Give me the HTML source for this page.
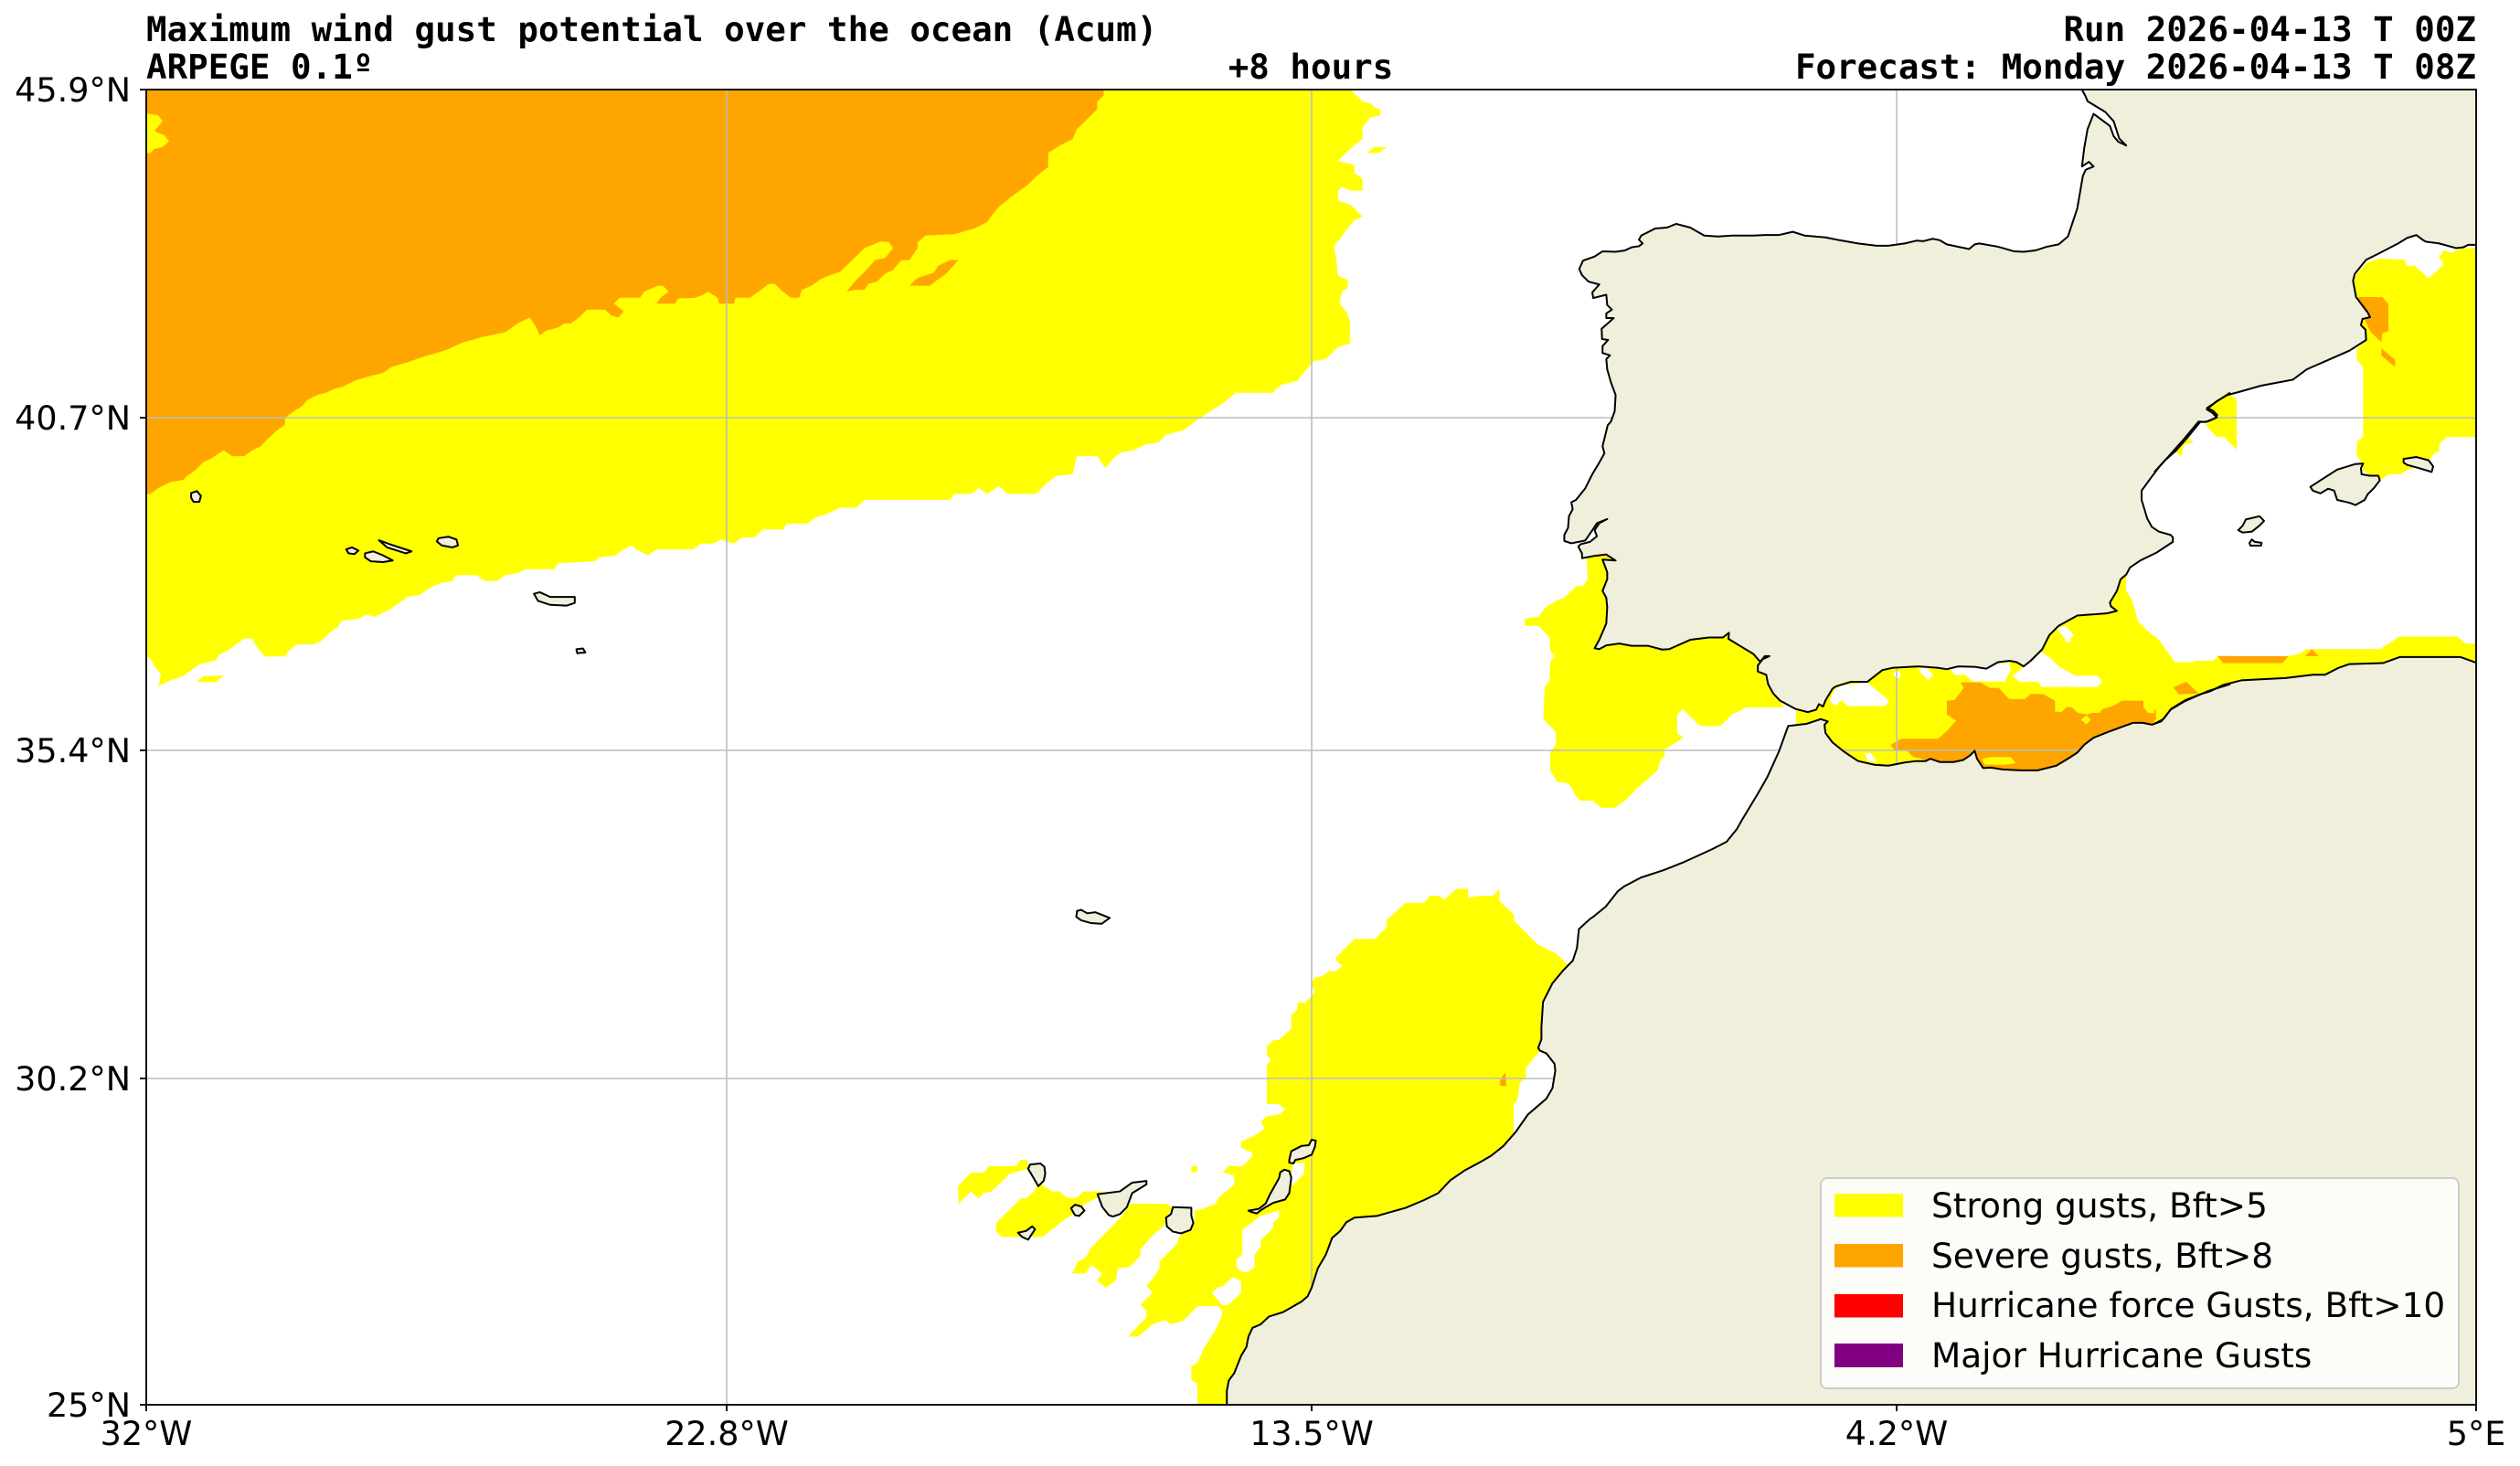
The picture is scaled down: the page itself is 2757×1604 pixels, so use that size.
<!DOCTYPE html>
<html><head><meta charset="utf-8"><style>html,body{margin:0;padding:0;background:#fff;overflow:hidden}svg{display:block}</style></head>
<body>
<svg width="2757" height="1604" viewBox="0 0 2757 1604" xmlns="http://www.w3.org/2000/svg">
<rect x="0" y="0" width="2757" height="1604" fill="#ffffff"/>
<defs><clipPath id="ax"><rect x="160" y="98" width="2549" height="1439"/></clipPath></defs>
<g clip-path="url(#ax)">
<!-- ===== FILLS ===== -->
<g transform="translate(160,98) scale(0.893,0.4337)">
<polygon fill="#ffff00" points="0,0 1475,0 1478,5 1490,30 1500,35 1505,45 1512,50 1512,65 1500,70 1490,95 1490,125 1480,140 1465,170 1460,180 1480,190 1480,210 1490,225 1490,255 1475,255 1465,245 1460,255 1460,280 1475,290 1490,320 1480,330 1470,355 1465,370 1455,395 1458,430 1460,470 1472,480 1472,500 1465,510 1462,540 1470,560 1475,585 1475,640 1460,650 1445,680 1430,685 1420,710 1410,735 1390,745 1380,765 1335,765 1320,790 1305,810 1290,830 1280,845 1270,860 1250,870 1240,890 1225,895 1210,910 1195,915 1185,930 1175,955 1165,925 1140,925 1135,970 1115,975 1105,990 1090,1020 1055,1020 1045,1000 1030,1020 1020,1005 1010,1020 990,1020 985,1035 880,1035 870,1055 850,1055 835,1070 820,1080 810,1095 785,1095 780,1110 755,1110 745,1130 730,1130 720,1145 705,1135 695,1145 680,1145 670,1160 625,1160 615,1175 600,1160 595,1150 585,1160 575,1175 555,1180 550,1190 505,1195 500,1210 465,1210 455,1220 440,1225 430,1240 415,1240 405,1225 380,1225 375,1240 360,1245 345,1260 335,1275 320,1280 310,1295 300,1310 290,1320 280,1330 270,1325 260,1335 240,1340 235,1355 225,1370 215,1390 205,1400 185,1400 175,1415 170,1430 145,1430 135,1405 130,1385 120,1385 110,1400 100,1415 90,1425 85,1440 75,1445 65,1450 55,1465 45,1480 30,1490 15,1505 18,1475 10,1455 5,1435 0,1430"/>
<polygon fill="#ffff00" points="62,1495 70,1480 95,1478 85,1495"/>
<polygon fill="#ffff00" points="1495,160 1505,145 1520,145 1510,160"/>
<polygon fill="#ffa500" points="0,0 1173,0 1173,15 1165,30 1165,50 1150,80 1140,100 1135,125 1120,140 1105,160 1105,195 1090,220 1080,240 1060,270 1045,295 1035,320 1030,335 1015,350 990,365 955,368 945,385 945,400 935,430 925,430 915,455 905,465 895,485 885,490 880,505 868,505 858,510 870,480 880,460 893,430 905,425 915,400 910,385 900,383 880,400 870,420 860,440 850,460 835,470 825,480 815,495 803,505 800,525 790,525 780,510 770,490 763,490 750,510 740,525 722,525 720,540 702,540 700,525 688,510 680,520 672,525 652,527 648,540 625,540 630,525 640,510 633,495 627,495 610,510 605,525 580,525 573,540 585,560 578,575 570,570 562,555 540,555 530,575 520,590 512,590 505,600 490,608 482,620 478,600 470,575 455,590 445,605 440,612 410,625 385,640 370,655 350,668 345,670 320,688 300,700 290,715 270,725 255,735 240,750 230,755 220,765 210,770 198,782 190,800 182,810 170,828 170,845 160,860 155,870 147,885 140,900 130,910 120,925 105,925 95,910 80,930 70,940 60,960 50,975 45,985 30,990 15,1005 5,1020 0,1020"/>
<polygon fill="#ffa500" points="935,495 945,475 965,462 970,445 985,430 995,430 980,465 968,482 960,495"/>
<polygon fill="#ffff00" points="0,60 15,65 20,80 10,105 22,115 28,130 20,145 10,150 5,160 0,160"/>
</g>

<g transform="translate(1640,98) scale(0.5102)">
<polygon fill="#ffff00" points="188,1000 240,995 260,1100 240,1190 350,1190 480,1165 560,1220 572,1262 585,1295 605,1315 612,1325 530,1325 520,1330 500,1340 475,1365 432,1365 410,1345 395,1328 382,1340 382,1380 395,1390 380,1400 355,1415 355,1430 345,1440 340,1460 300,1495 270,1525 250,1540 220,1540 200,1525 175,1525 165,1515 150,1488 125,1485 110,1460 110,1420 122,1405 122,1378 95,1350 98,1280 108,1270 110,1225 120,1215 110,1205 108,1175 85,1150 55,1150 55,1135 85,1130 100,1110 125,1095 140,1090 165,1065 180,1065 190,1050"/>
<polygon fill="#ffff00" points="640,1335 660,1333 690,1320 700,1300 720,1270 790,1260 822,1235 900,1228 1000,1228 1100,1215 1140,1210 1170,1170 1200,1140 1240,1118 1310,1110 1318,1075 1330,1045 1345,1040 1345,1075 1355,1090 1362,1110 1370,1140 1390,1160 1420,1185 1420,1200 1445,1225 1530,1225 1545,1215 1568,1215 1568,1320 1520,1320 1440,1345 1420,1375 1300,1395 1240,1440 1150,1475 1030,1475 1010,1445 960,1455 830,1465 760,1450 700,1395 690,1360 640,1360"/>
<polygon fill="#ffffff" points="1195,1155 1215,1150 1232,1170 1220,1185"/>
<polygon fill="#ffa500" points="1445,1285 1470,1270 1495,1292 1458,1298"/>
<polygon fill="#ffa500" points="1540,1215 1568,1215 1568,1232 1548,1232"/>
</g>

<!-- Alboran detail (actual = 1900 + d/3, 700 + d/3) -->
<g transform="translate(1900,700) scale(0.33333)">
<polygon fill="#ffff00" points="195,0 1500,0 1500,600 195,600"/>
<polygon fill="#ffffff" points="320,165 345,150 430,140 440,150 500,200 488,218 365,218 345,198 325,218 305,200"/>
<polygon fill="#ffffff" points="512,112 528,100 542,115 528,130"/>
<polygon fill="#ffffff" points="595,95 625,92 645,115 630,132 610,115"/>
<polygon fill="#ffffff" points="700,95 720,88 800,92 820,97 855,78 895,75 900,100 880,137 775,137 750,115 715,115"/>
<polygon fill="#ffffff" points="905,118 935,95 980,60 1000,40 1030,60 1060,90 1090,105 1110,118 1185,118 1200,140 1185,155 1000,155 990,138 930,138"/>
<polygon fill="#ffffff" points="1385,0 1400,20 1440,75 1500,75 1500,0"/>
<polygon fill="#ffffff" points="420,372 440,372 460,400 432,400"/>
<polygon fill="#ffffff" points="1075,0 1100,0 1090,10"/>
<polygon fill="#ffa500" points="735,140 800,140 830,158 860,158 895,195 945,195 965,178 1005,178 1045,200 1045,235 1065,238 1085,220 1100,222 1120,240 1150,245 1165,240 1190,240 1200,228 1240,215 1265,200 1335,200 1335,220 1350,240 1372,242 1372,275 1300,275 1230,305 1190,325 1145,355 1120,380 1050,420 1000,435 935,432 850,428 800,428 790,395 780,368 760,390 730,405 690,410 650,405 625,397 600,388 580,385 560,365 520,365 505,345 540,325 660,325 690,300 720,265 690,245 690,200 715,198 730,178 745,158"/>
<polygon fill="#ffff00" points="805,392 830,385 900,385 915,405 880,410 815,410"/>
<polygon fill="#ffff00" points="1130,262 1148,248 1162,262 1148,278"/>
<polygon fill="#ffa500" points="1435,158 1470,140 1500,150 1500,180 1450,180"/>
</g>

<!-- Ebro delta yellow -->
<polygon fill="#ffff00" points="2415,448 2437,428 2447,438 2447,492 2433,478 2425,478 2413,465 2420,460 2427,456"/>
<polygon fill="#ffff00" points="2380,494 2393,478 2400,484 2390,486 2386,499"/>

<g transform="translate(2357,98) scale(0.33333,0.5102)">
<polygon fill="#ffff00" points="700,370 740,362 820,365 830,378 855,378 900,405 950,375 935,360 950,345 975,350 1010,340 1060,340 1060,745 1010,745 960,745 935,760 935,775 920,780 900,795 860,810 830,815 810,825 770,825 740,838 705,828 685,815 680,800 665,785 665,755 685,745 685,595 665,580 665,555 695,540 690,510 675,500 680,490 700,480 665,450 655,410 665,395"/>
<polygon fill="#ffa500" points="668,445 748,445 768,460 768,518 748,522 745,542 710,520 695,500 680,470"/>
<polygon fill="#ffa500" points="745,555 790,580 790,595 745,570"/>
<polygon fill="#ffff00" points="0,1170 20,1185 25,1200 65,1228 190,1228 210,1215 440,1215 475,1210 500,1200 740,1200 770,1188 805,1173 995,1173 1020,1188 1060,1188 1060,1400 0,1400"/>
<polygon fill="#ffa500" points="208,1215 440,1215 420,1230 225,1230"/>
<polygon fill="#ffa500" points="495,1215 517,1200 540,1215"/>
<polygon fill="#ffa500" points="62,1282 105,1270 145,1295 80,1297"/>
<polygon fill="#ffa500" points="0,1330 5,1330 5,1352 0,1352"/>
</g>

<g transform="translate(1040,940) scale(0.4464,0.3827)">
<polygon fill="#ffff00" points="1240,85 1268,85 1268,110 1300,105 1330,105 1345,85 1345,120 1380,158 1380,175 1440,245 1485,270 1510,300 1545,300 1545,540 1445,548 1410,595 1410,625 1395,640 1390,685 1380,700 1380,785 1355,820 1420,900 1420,1575 605,1575 605,1500 590,1490 590,1450 605,1440 620,1400 650,1345 665,1305 665,1290 655,1278 605,1278 570,1320 540,1330 525,1318 495,1330 460,1365 435,1365 480,1310 480,1290 465,1275 495,1240 480,1220 498,1195 512,1170 512,1150 555,1100 560,1080 598,1040 598,1003 610,1003 650,985 655,970 695,930 695,905 668,895 680,878 715,878 740,850 740,840 712,825 712,808 745,790 770,770 760,750 775,735 805,730 820,715 805,700 775,700 775,590 785,575 775,560 775,535 792,517 805,517 835,485 835,445 850,430 850,410 870,410 893,380 885,360 890,340 910,335 928,320 945,320 960,305 945,290 945,280 990,228 1040,228 1068,195 1068,175 1115,125 1160,125 1175,105 1195,105 1210,115"/>
<polygon fill="#ffff00" points="18,935 50,897 80,897 95,878 160,878 172,860 188,860 190,885 145,900 100,950 80,955 68,970 50,950 20,985"/>
<polygon fill="#ffff00" points="112,1040 172,970 185,970 205,950 215,925 235,940 250,950 268,950 285,968 310,968 325,950 375,950 360,968 330,985 300,1015 280,1030 225,1080 125,1080 112,1065"/>
<polygon fill="#ffff00" points="345,1110 420,1020 440,985 530,985 545,998 530,1020 525,1045 512,1060 500,1070 465,1115 465,1135 440,1165 410,1170 405,1205 380,1225 358,1205 372,1185 345,1160 330,1185 298,1185 312,1150 330,1140"/>
<polygon fill="#ffff00" points="590,878 605,878 605,893 590,898"/>
<polygon fill="#ffffff" points="715,1060 760,1020 805,1005 805,1025 790,1040 790,1055 760,1090 760,1110 745,1130 745,1165 730,1180 715,1180 700,1165 700,1145 715,1130"/>
<polygon fill="#ffffff" points="640,1240 655,1225 670,1220 690,1195 712,1205 712,1240 680,1275 665,1275 655,1260"/>
<polygon fill="#ffffff" points="840,870 868,868 866,900 836,935 835,900"/>
<polygon fill="#ffa500" points="1347,628 1360,610 1362,648 1347,648"/>
</g>

<!-- ===== GRIDLINES ===== -->
<g stroke="#bdbdbd" stroke-width="1.6">
<line x1="795" y1="98" x2="795" y2="1537"/>
<line x1="1435" y1="98" x2="1435" y2="1537"/>
<line x1="2075" y1="98" x2="2075" y2="1537"/>
<line x1="160" y1="457" x2="2709" y2="457"/>
<line x1="160" y1="821" x2="2709" y2="821"/>
<line x1="160" y1="1180" x2="2709" y2="1180"/>
</g>

<!-- ===== LAND ===== -->
<g fill="#efefdb" stroke="none">
<g transform="translate(1640,98) scale(0.5102)">
<polygon points="1250,0 1258,15 1262,25 1300,48 1318,68 1330,105 1345,120 1328,112 1318,100 1310,78 1275,52 1262,85 1255,125 1250,165 1265,155 1275,165 1258,172 1252,185 1240,255 1220,315 1200,332 1175,337 1150,345 1125,348 1105,347 1070,337 1030,330 1020,332 1008,342 960,332 945,323 930,320 910,325 895,324 870,330 835,335 810,335 770,330 730,323 700,317 655,313 630,305 600,312 570,312 545,313 500,313 470,315 440,313 410,296 395,292 380,288 360,296 335,298 305,313 300,322 308,330 300,336 285,338 270,345 250,348 222,347 205,358 180,367 172,385 178,398 192,412 215,418 200,435 202,447 230,440 232,462 242,472 230,480 230,490 246,490 220,513 221,535 234,537 222,550 222,565 238,570 230,578 232,600 240,628 250,655 248,690 240,712 233,720 222,765 226,780 215,800 200,825 185,855 165,880 155,885 158,900 150,915 148,940 140,955 140,968 155,973 185,967 200,945 210,930 232,921 215,930 205,945 210,958 195,970 175,975 170,980 178,995 178,1005 205,1000 230,997 250,1010 222,1008 232,1035 232,1050 222,1075 230,1090 232,1110 230,1145 215,1180 205,1198 215,1200 230,1192 258,1188 285,1193 320,1193 350,1201 365,1200 410,1180 450,1175 480,1175 493,1165 492,1178 520,1195 545,1210 560,1227 570,1215 580,1215 565,1222 555,1235 555,1248 573,1255 577,1275 588,1295 602,1310 635,1328 662,1335 680,1330 686,1318 695,1323 700,1310 715,1285 722,1280 755,1270 790,1270 822,1245 845,1240 900,1237 940,1240 960,1243 985,1237 1020,1238 1045,1242 1070,1228 1095,1225 1110,1228 1125,1237 1140,1225 1165,1200 1180,1170 1200,1150 1240,1128 1280,1125 1305,1123 1325,1118 1312,1108 1310,1100 1325,1075 1333,1050 1345,1040 1353,1025 1375,1010 1410,993 1445,970 1445,960 1440,955 1415,948 1400,938 1390,920 1378,880 1378,860 1400,830 1415,810 1440,782 1470,748 1500,712 1515,713 1535,705 1540,698 1530,688 1518,683 1545,665 1568,650 1568,-10 1250,-10"/>
<polygon points="196,1778 202,1774 229,1752 255,1719 268,1709 304,1690 353,1674 398,1656 457,1629 488,1613 510,1586 520,1568 555,1510 575,1475 600,1420 620,1365 660,1360 690,1350 705,1355 698,1362 700,1380 715,1400 740,1420 770,1440 805,1448 835,1450 870,1443 895,1440 915,1440 925,1435 945,1442 975,1442 995,1438 1010,1428 1020,1418 1025,1435 1038,1455 1055,1454 1080,1458 1120,1460 1155,1460 1195,1450 1220,1435 1240,1422 1255,1405 1275,1390 1305,1378 1335,1367 1360,1358 1380,1358 1400,1362 1420,1355 1440,1330 1470,1312 1520,1290 1568,1275 1568,2830 196,2830"/>
</g>
<g transform="translate(2357,98) scale(0.33333,0.5102)">
<polygon points="0,820 35,795 70,775 110,745 150,713 175,712 205,703 190,693 172,686 205,668 240,655 280,648 350,635 455,622 500,600 570,580 640,560 695,537 693,515 678,505 683,492 708,488 700,478 685,465 662,445 652,410 658,395 695,365 735,352 800,330 830,318 860,312 880,322 890,326 935,330 990,340 1015,338 1030,333 1070,333 1070,-10 0,-10"/>
<polygon points="0,1360 30,1350 55,1328 100,1310 150,1297 185,1290 225,1277 285,1267 430,1262 520,1255 560,1255 605,1240 640,1232 750,1230 805,1217 1005,1217 1070,1230 1070,2900 0,2900"/>
</g>
<g transform="translate(1040,940) scale(0.4464,0.3827)">
<polygon points="1568,170 1540,200 1535,255 1525,290 1500,320 1475,355 1452,408 1448,480 1448,515 1440,540 1445,548 1460,555 1480,585 1482,605 1475,655 1460,685 1440,705 1415,730 1385,780 1355,820 1325,848 1300,865 1260,890 1225,918 1195,955 1160,975 1115,997 1045,1020 990,1025 970,1038 955,1063 935,1083 920,1130 900,1170 885,1225 875,1250 860,1265 815,1295 780,1308 760,1330 740,1340 730,1365 725,1395 712,1420 695,1470 682,1490 677,1520 677,1580 1610,1580 1610,170"/>
</g>
</g>

<!-- ===== COASTLINES ===== -->
<g fill="none" stroke="#000" stroke-width="2" stroke-linejoin="round">
<g transform="translate(1640,98) scale(0.5102)">
<polyline vector-effect="non-scaling-stroke" points="1250,0 1258,15 1262,25 1300,48 1318,68 1330,105 1345,120 1328,112 1318,100 1310,78 1275,52 1262,85 1255,125 1250,165 1265,155 1275,165 1258,172 1252,185 1240,255 1220,315 1200,332 1175,337 1150,345 1125,348 1105,347 1070,337 1030,330 1020,332 1008,342 960,332 945,323 930,320 910,325 895,324 870,330 835,335 810,335 770,330 730,323 700,317 655,313 630,305 600,312 570,312 545,313 500,313 470,315 440,313 410,296 395,292 380,288 360,296 335,298 305,313 300,322 308,330 300,336 285,338 270,345 250,348 222,347 205,358 180,367 172,385 178,398 192,412 215,418 200,435 202,447 230,440 232,462 242,472 230,480 230,490 246,490 220,513 221,535 234,537 222,550 222,565 238,570 230,578 232,600 240,628 250,655 248,690 240,712 233,720 222,765 226,780 215,800 200,825 185,855 165,880 155,885 158,900 150,915 148,940 140,955 140,968 155,973 185,967 200,945 210,930 232,921 215,930 205,945 210,958 195,970 175,975 170,980 178,995 178,1005 205,1000 230,997 250,1010 222,1008 232,1035 232,1050 222,1075 230,1090 232,1110 230,1145 215,1180 205,1198 215,1200 230,1192 258,1188 285,1193 320,1193 350,1201 365,1200 410,1180 450,1175 480,1175 493,1165 492,1178 520,1195 545,1210 560,1227 570,1215 580,1215 565,1222 555,1235 555,1248 573,1255 577,1275 588,1295 602,1310 635,1328 662,1335 680,1330 686,1318 695,1323 700,1310 715,1285 722,1280 755,1270 790,1270 822,1245 845,1240 900,1237 940,1240 960,1243 985,1237 1020,1238 1045,1242 1070,1228 1095,1225 1110,1228 1125,1237 1140,1225 1165,1200 1180,1170 1200,1150 1240,1128 1280,1125 1305,1123 1325,1118 1312,1108 1310,1100 1325,1075 1333,1050 1345,1040 1353,1025 1375,1010 1410,993 1445,970 1445,960 1440,955 1415,948 1400,938 1390,920 1378,880 1378,860 1400,830 1415,810 1440,782 1470,748 1500,712 1515,713 1535,705 1540,698 1530,688 1518,683 1545,665 1568,650"/>
<polyline vector-effect="non-scaling-stroke" points="196,1778 202,1774 229,1752 255,1719 268,1709 304,1690 353,1674 398,1656 457,1629 488,1613 510,1586 520,1568 555,1510 575,1475 600,1420 620,1365 660,1360 690,1350 705,1355 698,1362 700,1380 715,1400 740,1420 770,1440 805,1448 835,1450 870,1443 895,1440 915,1440 925,1435 945,1442 975,1442 995,1438 1010,1428 1020,1418 1025,1435 1038,1455 1055,1454 1080,1458 1120,1460 1155,1460 1195,1450 1220,1435 1240,1422 1255,1405 1275,1390 1305,1378 1335,1367 1360,1358 1380,1358 1400,1362 1420,1355 1440,1330 1470,1312 1520,1290 1568,1275"/>
</g>
<g transform="translate(2357,98) scale(0.33333,0.5102)">
<polyline vector-effect="non-scaling-stroke" points="0,820 35,795 70,775 110,745 150,713 175,712 205,703 190,693 172,686 205,668 240,655 280,648 350,635 455,622 500,600 570,580 640,560 695,537 693,515 678,505 683,492 708,488 700,478 685,465 662,445 652,410 658,395 695,365 735,352 800,330 830,318 860,312 880,322 890,326 935,330 990,340 1015,338 1030,333 1060,333"/>
<polyline vector-effect="non-scaling-stroke" points="0,1360 30,1350 55,1328 100,1310 150,1297 185,1290 225,1277 285,1267 430,1262 520,1255 560,1255 605,1240 640,1232 750,1230 805,1217 1005,1217 1060,1230"/>
</g>
<g transform="translate(1040,940) scale(0.4464,0.3827)">
<polyline vector-effect="non-scaling-stroke" points="1568,170 1540,200 1535,255 1525,290 1500,320 1475,355 1452,408 1448,480 1448,515 1440,540 1445,548 1460,555 1480,585 1482,605 1475,655 1460,685 1440,705 1415,730 1385,780 1355,820 1325,848 1300,865 1260,890 1225,918 1195,955 1160,975 1115,997 1045,1020 990,1025 970,1038 955,1063 935,1083 920,1130 900,1170 885,1225 875,1250 860,1265 815,1295 780,1308 760,1330 740,1340 730,1365 725,1395 712,1420 695,1470 682,1490 677,1520 677,1580"/>
</g>
</g>

<!-- ===== ISLANDS ===== -->
<g fill="#efefdb" stroke="#000" stroke-width="2" stroke-linejoin="round">
<g transform="translate(160,98) scale(0.893,0.4337)">
<polygon vector-effect="non-scaling-stroke" points="55,1018 62,1013 67,1025 65,1040 58,1040 55,1030"/>
<polygon vector-effect="non-scaling-stroke" points="245,1160 252,1155 260,1163 255,1172 248,1170"/>
<polygon vector-effect="non-scaling-stroke" points="268,1170 278,1165 290,1175 302,1188 290,1192 275,1190 268,1180"/>
<polygon vector-effect="non-scaling-stroke" points="285,1137 300,1148 325,1165 318,1170 295,1155"/>
<polygon vector-effect="non-scaling-stroke" points="358,1132 370,1128 380,1135 382,1150 375,1155 362,1150 356,1140"/>
<polygon vector-effect="non-scaling-stroke" points="475,1272 482,1268 495,1280 525,1280 525,1295 515,1302 495,1300 480,1290"/>
<polygon vector-effect="non-scaling-stroke" points="527,1412 535,1410 538,1420 528,1422"/>
</g>
<g transform="translate(2357,98) scale(0.33333,0.5102)">
<polygon vector-effect="non-scaling-stroke" points="512,852 545,838 600,815 660,803 685,802 678,812 680,825 705,828 735,828 740,838 720,855 700,868 690,880 660,891 640,886 600,880 590,860 570,856 545,866 520,860"/>
<polygon vector-effect="non-scaling-stroke" points="818,792 860,788 900,795 915,808 910,820 870,812 830,805 818,800"/>
<polygon vector-effect="non-scaling-stroke" points="275,945 290,935 300,922 345,915 360,925 345,935 320,948 290,950"/>
<polygon vector-effect="non-scaling-stroke" points="312,972 320,965 330,970 352,972 350,978 315,978"/>
</g>
<g transform="translate(1040,940) scale(0.4464,0.3827)">
<polygon vector-effect="non-scaling-stroke" points="310,148 320,145 335,155 355,152 390,168 370,185 345,183 320,175 308,165"/>
<polygon vector-effect="non-scaling-stroke" points="195,873 220,870 230,880 232,900 228,920 215,935 205,915 190,885"/>
<polygon vector-effect="non-scaling-stroke" points="165,1068 185,1063 200,1050 207,1058 190,1088 175,1080"/>
<polygon vector-effect="non-scaling-stroke" points="295,998 305,988 320,993 328,1005 315,1020 305,1018"/>
<polygon vector-effect="non-scaling-stroke" points="360,958 415,950 445,925 480,920 480,930 445,955 432,995 415,1015 398,1022 388,1018 372,995"/>
<polygon vector-effect="non-scaling-stroke" points="545,995 590,997 590,1020 595,1040 588,1060 565,1070 545,1065 530,1050 528,1025 540,1015"/>
<polygon vector-effect="non-scaling-stroke" points="730,1005 755,1000 772,985 782,960 805,912 808,895 818,888 830,892 835,910 830,955 820,973 790,983 765,1000 750,1013 735,1008"/>
<polygon vector-effect="non-scaling-stroke" points="830,860 835,835 860,820 878,818 885,802 895,805 893,822 885,845 865,855 845,860 840,870 830,868"/>
</g>
</g>
</g>

<!-- ===== AXES FRAME ===== -->
<rect x="160" y="98" width="2549" height="1439" fill="none" stroke="#111" stroke-width="2"/>
<g stroke="#111" stroke-width="2">
<line x1="153" y1="98" x2="160" y2="98"/>
<line x1="153" y1="457" x2="160" y2="457"/>
<line x1="153" y1="821" x2="160" y2="821"/>
<line x1="153" y1="1180" x2="160" y2="1180"/>
<line x1="153" y1="1537" x2="160" y2="1537"/>
<line x1="160" y1="1537" x2="160" y2="1544"/>
<line x1="795" y1="1537" x2="795" y2="1544"/>
<line x1="1435" y1="1537" x2="1435" y2="1544"/>
<line x1="2075" y1="1537" x2="2075" y2="1544"/>
<line x1="2709" y1="1537" x2="2709" y2="1544"/>
</g>
<g font-family="'DejaVu Sans','Liberation Sans',sans-serif" font-size="36.5" fill="#000">
<text x="143" y="111" text-anchor="end">45.9°N</text>
<text x="143" y="470" text-anchor="end">40.7°N</text>
<text x="143" y="834" text-anchor="end">35.4°N</text>
<text x="143" y="1193" text-anchor="end">30.2°N</text>
<text x="143" y="1550" text-anchor="end">25°N</text>
<text x="160" y="1581" text-anchor="middle">32°W</text>
<text x="795" y="1581" text-anchor="middle">22.8°W</text>
<text x="1435" y="1581" text-anchor="middle">13.5°W</text>
<text x="2075" y="1581" text-anchor="middle">4.2°W</text>
<text x="2709" y="1581" text-anchor="middle">5°E</text>
</g>

<!-- ===== TITLES ===== -->
<g font-family="'DejaVu Sans Mono','Liberation Mono',monospace" font-weight="bold" font-size="37.5" fill="#000">
<text x="160" y="45">Maximum wind gust potential over the ocean (Acum)</text>
<text x="2709" y="45" text-anchor="end">Run 2026-04-13 T 00Z</text>
<text x="160" y="86">ARPEGE 0.1º</text>
<text x="1434" y="86" text-anchor="middle">+8 hours</text>
<text x="2709" y="86" text-anchor="end">Forecast: Monday 2026-04-13 T 08Z</text>
</g>

<!-- ===== LEGEND ===== -->
<rect x="1992" y="1289" width="698" height="230" rx="7" ry="7" fill="#fcfcf8" stroke="#cccccc" stroke-width="2"/>
<rect x="2007" y="1306" width="75" height="25.5" fill="#ffff00"/>
<rect x="2007" y="1361" width="75" height="25.5" fill="#ffa500"/>
<rect x="2007" y="1416" width="75" height="25.5" fill="#ff0000"/>
<rect x="2007" y="1470" width="75" height="26" fill="#800080"/>
<g font-family="'DejaVu Sans','Liberation Sans',sans-serif" font-size="37.4" fill="#000">
<text x="2113" y="1332">Strong gusts, Bft&gt;5</text>
<text x="2113" y="1387">Severe gusts, Bft&gt;8</text>
<text x="2113" y="1441">Hurricane force Gusts, Bft&gt;10</text>
<text x="2113" y="1496">Major Hurricane Gusts</text>
</g>
</svg>
</body></html>
